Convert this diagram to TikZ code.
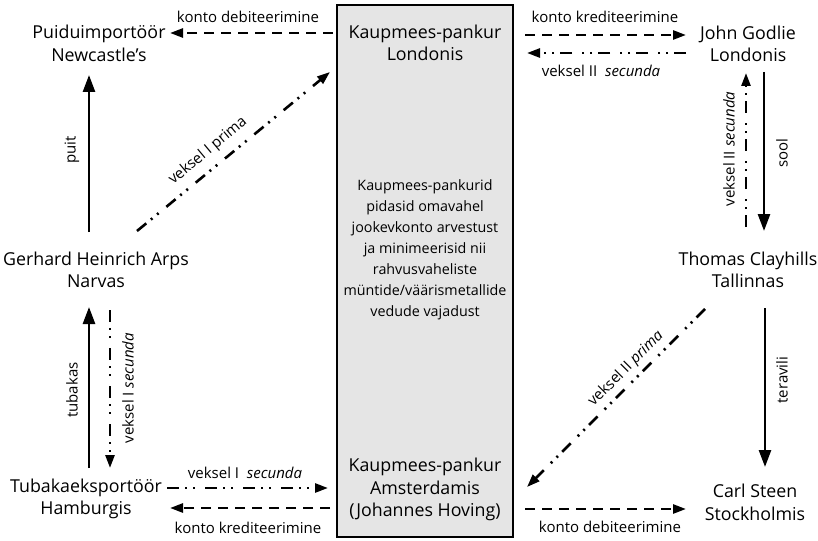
\documentclass[tikz,border=0pt]{standalone}
\usepackage{fontspec}
\setmainfont{Open Sans}
\usetikzlibrary{arrows.meta}
\tikzset{
  place/.style={align=center,font=\fontsize{17.8}{22.5}\selectfont,inner sep=0pt},
  lbl/.style={font=\fontsize{15}{16}\selectfont,inner sep=0pt},
  solidarr/.style={line width=2.6pt,-{Triangle[length=17pt,width=12pt]}},
  dasharr/.style={line width=2.6pt,dash pattern=on 10pt off 7pt,-{Triangle[length=13pt,width=9pt]}},
  ddarr/.style={line width=2.6pt,dash pattern=on 12pt off 6pt on 2pt off 6pt on 2pt off 10pt,-{Triangle[length=13pt,width=9pt]}},
  bankbox/.style={draw,line width=2pt,fill=black!10,minimum width=176pt,minimum height=532pt,inner sep=0pt}
}
\begin{document}
\begin{tikzpicture}[x=1pt,y=-1pt]
\useasboundingbox (0,0) rectangle (818,540);
% central box
\node[bankbox] (box) at (425,271) {};
\node[place] (lon) at (425,43) {Kaupmees-pankur\\Londonis};
\node[place,font=\fontsize{14.3}{21}\selectfont] (mid) at (425,250) {Kaupmees-pankurid\\pidasid omavahel\\jookevkonto arvestust\\ja minimeerisid nii\\rahvusvaheliste\\müntide/väärismetallide\\vedude vajadust};
\node[place] (ams) at (425,489.5) {Kaupmees-pankur\\Amsterdamis\\(Johannes Hoving)};
% places
\node[place] (pu) at (99,43.5) {Puiduimportöör\\Newcastle’s};
\node[place] (jg) at (748,44) {John Godlie\\Londonis};
\node[place] (ga) at (96,270) {Gerhard Heinrich Arps\\Narvas};
\node[place] (tc) at (748,270) {Thomas Clayhills\\Tallinnas};
\node[place] (th) at (86,499) {Tubakaeksportöör\\Hamburgis};
\node[place] (cs) at (755,502.5) {Carl Steen\\Stockholmis};
% endpoints
\coordinate (a1s) at (333,33);   \coordinate (a1e) at (170,33);
\coordinate (a2s) at (525,35);   \coordinate (a2e) at (686,35);
\coordinate (a3s) at (686,53);   \coordinate (a3e) at (527,53);
\coordinate (a4s) at (764,72);   \coordinate (a4e) at (764,231);
\coordinate (a5s) at (746,227);  \coordinate (a5e) at (746,73);
\coordinate (a6s) at (89,232);   \coordinate (a6e) at (89,75);
\coordinate (a7s) at (137,231);  \coordinate (a7e) at (330,72);
\coordinate (a8s) at (89,468);   \coordinate (a8e) at (89,307);
\coordinate (a9s) at (110,310);  \coordinate (a9e) at (110,468);
\coordinate (a10s) at (705,309); \coordinate (a10e) at (527,487);
\coordinate (a11s) at (765,308); \coordinate (a11e) at (765,467);
\coordinate (a12s) at (167,488); \coordinate (a12e) at (328,488);
\coordinate (a13s) at (330,508); \coordinate (a13e) at (170,508);
\coordinate (a14s) at (525,509); \coordinate (a14e) at (686,509);
% connectors
\draw[dasharr] (a1s) -- (a1e);
\draw[dasharr] (a2s) -- (a2e);
\draw[ddarr] (a3s) -- (a3e);
\draw[solidarr] (a4s) -- (a4e);
\draw[ddarr] (a5s) -- (a5e);
\draw[solidarr] (a6s) -- (a6e);
\draw[ddarr] (a7s) -- (a7e);
\draw[solidarr] (a8s) -- (a8e);
\draw[ddarr] (a9s) -- (a9e);
\draw[ddarr] (a10s) -- (a10e);
\draw[solidarr] (a11s) -- (a11e);
\draw[ddarr] (a12s) -- (a12e);
\draw[dasharr] (a13s) -- (a13e);
\draw[dasharr] (a14s) -- (a14e);
% labels
\node[lbl] (l1) at (248,17) {konto debiteerimine};
\node[lbl] (l2) at (605,17) {konto krediteerimine};
\node[lbl] (l3) at (601,71) {veksel II\ \ \textit{secunda}};
\node[lbl,rotate=90] (l4) at (72,150) {puit};
\node[lbl,rotate=39.8] (l5) at (208,151) {veksel I prima};
\node[lbl,rotate=90] (l6) at (782,153) {sool};
\node[lbl,rotate=90] (l7) at (729,149) {veksel II \textit{secunda}};
\node[lbl,rotate=90] (l8) at (72,390) {tubakas};
\node[lbl,rotate=90] (l9) at (128,388) {veksel I \textit{secunda}};
\node[lbl,rotate=45] (l10) at (626,369) {veksel II \textit{prima}};
\node[lbl,rotate=90] (l11) at (782,380) {teravili};
\node[lbl] (l12) at (245,473) {veksel I\ \ \textit{secunda}};
\node[lbl] (l13) at (248,528) {konto krediteerimine};
\node[lbl] (l14) at (610,527) {konto debiteerimine};
\end{tikzpicture}
\end{document}
